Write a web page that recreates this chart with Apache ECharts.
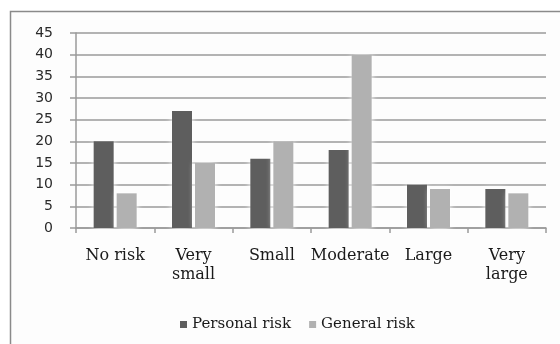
<!DOCTYPE html>
<html>
<head>
<meta charset="utf-8">
<script src="https://cdn.jsdelivr.net/npm/echarts@6/dist/echarts.min.js"></script>
<style>
  html, body { margin: 0; padding: 0; background: #ffffff; }
  #chart { width: 560px; height: 344px; }
</style>
</head>
<body>
<div id="chart"></div>
<script>
// Perceived risk level categories
const categories = ['No risk', 'Very\nsmall', 'Small', 'Moderate', 'Large', 'Very\nlarge'];
// Percentages per rating
const personalRisk = [20, 27, 16, 18, 10, 9];
const generalRisk = [8, 15, 20, 40, 9, 8];
// Value axis range
const yMin = 0;
const yMax = 45;
const yStep = 5;

const serif = '"DejaVu Serif", "Liberation Serif", serif';
const sans = '"DejaVu Sans", Verdana, sans-serif';
const lineGray = '#9a9a9a';

const chart = echarts.init(document.getElementById('chart'), null, { renderer: 'canvas' });

// soft light halo around each bar
const barShadow = {
  shadowBlur: 6,
  shadowColor: 'rgba(255,255,255,1)'
};

chart.setOption({
  animation: false,
  backgroundColor: '#ffffff',
  graphic: [{
    type: 'rect',
    z: -10,
    shape: { x: 10.5, y: 11.5, width: 580, height: 360 },
    style: { fill: '#fdfdfd', stroke: '#8a8a8a', lineWidth: 1.5 }
  }],
  grid: { left: 76, right: 14, top: 33, bottom: 116 },
  legend: {
    left: 175,
    top: 312,
    itemWidth: 7,
    itemHeight: 7,
    itemGap: 18,
    icon: 'rect',
    itemStyle: { shadowBlur: 0 },
    textStyle: { fontFamily: serif, fontSize: 15, color: '#1a1a1a' },
    data: ['Personal risk', 'General risk']
  },
  xAxis: {
    type: 'category',
    data: categories,
    axisLine: { lineStyle: { color: lineGray, width: 1.5 } },
    axisTick: { show: true, length: 5, interval: 0, lineStyle: { color: lineGray, width: 1.5 } },
    axisLabel: {
      interval: 0,
      margin: 18,
      fontFamily: serif,
      fontSize: 16,
      lineHeight: 19,
      color: '#1a1a1a'
    }
  },
  yAxis: {
    type: 'value',
    min: yMin,
    max: yMax,
    interval: yStep,
    axisLine: { show: true, lineStyle: { color: lineGray, width: 1.5 } },
    axisTick: { show: true, length: 6, lineStyle: { color: lineGray, width: 1.5 } },
    axisLabel: { margin: 23, fontFamily: sans, fontSize: 14, color: '#2a2a2a' },
    splitLine: { lineStyle: { color: lineGray, width: 1.5 } }
  },
  series: [
    {
      name: 'Personal risk',
      type: 'bar',
      data: personalRisk,
      barWidth: 20,
      barGap: '15%',
      itemStyle: Object.assign({ color: '#5e5e5e' }, barShadow)
    },
    {
      name: 'General risk',
      type: 'bar',
      data: generalRisk,
      barWidth: 20,
      itemStyle: Object.assign({ color: '#b1b1b1' }, barShadow)
    }
  ]
});
</script>
</body>
</html>
